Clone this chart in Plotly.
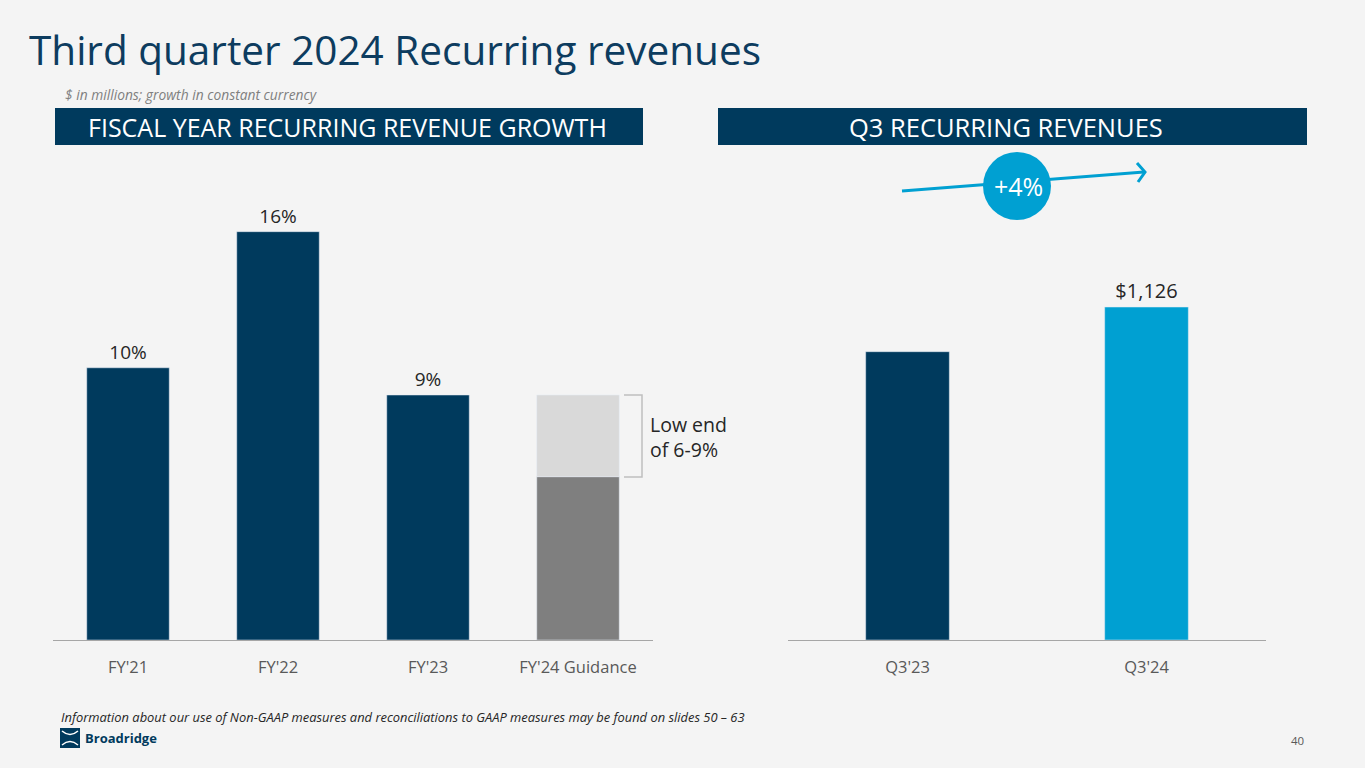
import plotly.graph_objects as go

W, H = 1365, 768

# left chart data
fy_labels = ["FY'21", "FY'22", "FY'23", "FY'24 Guidance"]
fy_growth = [10, 15, 9, None]
fy_text = ["10%", "16%", "9%", ""]
guide_low = [None, None, None, 6]
guide_range = [None, None, None, 3]

# right chart data
q_labels = ["Q3'23", "Q3'24"]
q_values = [975, 1126]
q_text = ["", "$1,126"]

NAVY = "#003a5d"
BLUE = "#00a0d2"
BG = "#f4f4f4"


def px(x):
    return x / W


def py(y):
    return 1 - y / H


fig = go.Figure()

fig.add_trace(go.Bar(
    x=fy_labels, y=fy_growth, text=fy_text, textposition="outside",
    marker_color=NAVY, width=0.55, cliponaxis=False,
    textfont=dict(size=19, color="#262626"),
    xaxis="x", yaxis="y", hoverinfo="skip"))
fig.add_trace(go.Bar(
    x=fy_labels, y=guide_low, marker_color="#7f7f7f", width=0.55,
    xaxis="x", yaxis="y", hoverinfo="skip"))
fig.add_trace(go.Bar(
    x=fy_labels, y=guide_range, base=guide_low, marker_color="#d9d9d9", width=0.55,
    xaxis="x", yaxis="y", hoverinfo="skip"))

fig.add_trace(go.Bar(
    x=q_labels, y=q_values, text=q_text, textposition="outside",
    marker_color=[NAVY, BLUE], width=0.35, cliponaxis=False,
    textfont=dict(size=20, color="#262626"),
    xaxis="x2", yaxis="y2", hoverinfo="skip"))

tickfont = dict(size=16.5, color="#595959")
fig.update_layout(
    width=W, height=H,
    paper_bgcolor=BG, plot_bgcolor=BG,
    margin=dict(l=0, r=0, t=0, b=0),
    showlegend=False, barmode="overlay",
    font=dict(family="Open Sans, sans-serif"),
    xaxis=dict(domain=[px(53), px(653)], range=[-0.5, 3.5], showline=True,
               linecolor="#a6a6a6", linewidth=1, ticks="", tickfont=tickfont,
               showgrid=False, ticklabelstandoff=12, fixedrange=True),
    yaxis=dict(domain=[py(640), py(150)], range=[0, 18], visible=False,
               fixedrange=True),
    xaxis2=dict(domain=[px(788), px(1266)], range=[-0.5, 1.5], showline=True,
                linecolor="#a6a6a6", linewidth=1, ticks="", tickfont=tickfont,
                showgrid=False, anchor="y2", ticklabelstandoff=12, fixedrange=True),
    yaxis2=dict(domain=[py(640), py(150)], range=[0, 1657], visible=False,
                anchor="x2", fixedrange=True),
)

shapes = []
# header bars
shapes.append(dict(type="rect", xref="paper", yref="paper", x0=px(55), x1=px(643),
                   y0=py(145), y1=py(108), fillcolor=NAVY, line_width=0, layer="below"))
shapes.append(dict(type="rect", xref="paper", yref="paper", x0=px(718), x1=px(1307),
                   y0=py(145), y1=py(108), fillcolor=NAVY, line_width=0, layer="below"))
# bracket for guidance range
shapes.append(dict(type="path", xref="paper", yref="paper",
                   path=f"M {px(624)},{py(395)} L {px(642)},{py(395)} L {px(642)},{py(477)} L {px(624)},{py(477)}",
                   line=dict(color="#bfbfbf", width=1.5)))
# growth arrow
shapes.append(dict(type="line", xref="paper", yref="paper", x0=px(902), y0=py(191),
                   x1=px(1144), y1=py(172), line=dict(color=BLUE, width=3)))
shapes.append(dict(type="path", xref="paper", yref="paper",
                   path=f"M {px(1137)},{py(163)} L {px(1145)},{py(172)} L {px(1138)},{py(182)}",
                   line=dict(color=BLUE, width=3)))
shapes.append(dict(type="circle", xref="paper", yref="paper", x0=px(983), x1=px(1051),
                   y0=py(220), y1=py(152), fillcolor=BLUE, line_width=0))
# logo mark
shapes.append(dict(type="rect", xref="paper", yref="paper", x0=px(60), x1=px(80),
                   y0=py(748), y1=py(728), fillcolor=NAVY, line_width=0))
shapes.append(dict(type="path", xref="paper", yref="paper",
                   path=f"M {px(62)},{py(731)} Q {px(70)},{py(738)} {px(78)},{py(731)}"
                        f" M {px(62)},{py(745)} Q {px(70)},{py(738)} {px(78)},{py(745)}",
                   line=dict(color="white", width=1.5)))
fig.update_layout(shapes=shapes)


def note(text, x, y, size, color, xanchor="left", **kw):
    return dict(text=text, x=px(x), y=py(y), xref="paper", yref="paper",
                xanchor=xanchor, yanchor="middle", showarrow=False,
                font=dict(size=size, color=color), **kw)


ann = [
    note("Third quarter 2024 Recurring revenues", 27, 49, 40.5, "#0d3c5f"),
    note("<i>$ in millions; growth in constant currency</i>", 63, 95, 13.8, "#7f7f7f"),
    note("FISCAL YEAR RECURRING REVENUE GROWTH", 347, 127, 25, "white", "center"),
    note("Q3 RECURRING REVENUES", 1006, 127, 25.5, "white", "center"),
    note("+4%", 1018, 186, 25, "white", "center"),
    note("Low end<br>of 6-9%", 648, 437, 19.5, "#262626", align="left"),
    note("<i>Information about our use of Non-GAAP measures and reconciliations to GAAP measures may be found on slides 50 – 63</i>",
         59, 717, 12.9, "#262626"),
    note("<b>Broadridge</b>", 83, 738, 13, NAVY),
    note("40", 1306, 740, 11.5, "#595959", "right"),
]
fig.update_layout(annotations=ann)

fig.write_html(
    "out.html",
    config={"displayModeBar": False},
    post_script="document.body.style.margin='0';document.body.style.overflow='hidden';"
                "document.body.style.background='#f4f4f4';",
)
